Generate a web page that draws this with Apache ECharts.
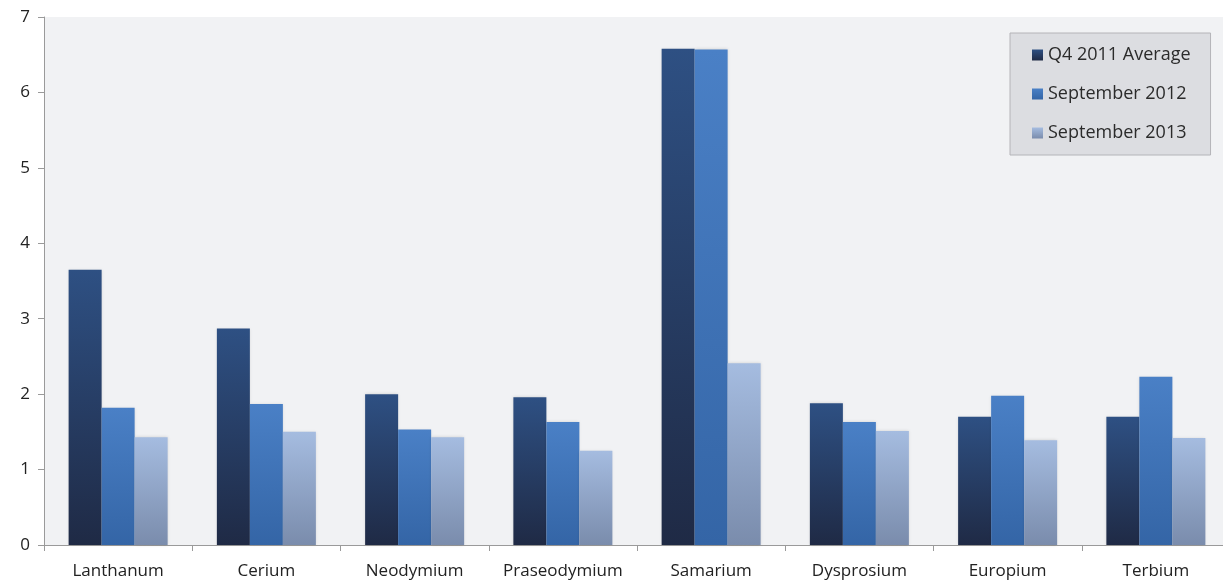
<!DOCTYPE html>
<html><head><meta charset="utf-8">
<script src="https://cdn.jsdelivr.net/npm/echarts@6/dist/echarts.min.js"></script>
<style>html,body{margin:0;padding:0;background:#fff;overflow:hidden}#c{width:1230px;height:583px}</style>
</head><body><div id="c"></div>
<script>
const categories = ['Lanthanum','Cerium','Neodymium','Praseodymium','Samarium','Dysprosium','Europium','Terbium'];
const seriesNames = ['Q4 2011 Average','September 2012','September 2013'];
const q4_2011 = [3.65, 2.87, 2.00, 1.96, 6.58, 1.88, 1.70, 1.70];
const sep_2012 = [1.82, 1.87, 1.53, 1.63, 6.57, 1.63, 1.98, 2.23];
const sep_2013 = [1.43, 1.50, 1.43, 1.25, 2.41, 1.51, 1.39, 1.42];
const yTicks = [0,1,2,3,4,5,6,7];

function grad(top, bottom){
  return {type:'linear',x:0,y:0,x2:0,y2:1,colorStops:[{offset:0,color:top},{offset:1,color:bottom}]};
}
const colors = [grad('#2e5083','#1f2a45'), grad('#4a80c6','#3465a6'), grad('#a5bce0','#7a8cac')];
const font = "'Open Sans', 'Liberation Sans', sans-serif";
const chart = echarts.init(document.getElementById('c'));
chart.setOption({
  animation:false,
  grid:{left:44,top:17,right:0,bottom:38,show:true,backgroundColor:'#f1f2f4',borderWidth:0},
  legend:{
    orient:'vertical', left:1010, top:33,
    backgroundColor:'#dcdde1', borderColor:'#b4b4b8', borderWidth:1,
    padding:[13,20,13,22], itemGap:21, itemWidth:11, itemHeight:11, itemStyle:{borderWidth:0}, icon:'rect',
    textStyle:{fontFamily:font,fontSize:18,color:'#2b2b2b'},
    data:seriesNames
  },
  xAxis:{
    type:'category', data:categories,
    axisLine:{lineStyle:{color:'#9a9a9a',width:1}},
    axisTick:{show:true,length:6,interval:0,lineStyle:{color:'#9a9a9a'}},
    axisLabel:{fontFamily:font,fontSize:17,color:'#222',margin:18,interval:0}
  },
  yAxis:{
    type:'value', min:0, max:7, interval:1,
    axisLine:{show:true,lineStyle:{color:'#9a9a9a'}},
    axisTick:{show:true,length:6,inside:false,lineStyle:{color:'#9a9a9a'}},
    splitLine:{show:false},
    axisLabel:{fontFamily:font,fontSize:17,color:'#222',margin:14,
      formatter:function(v){return yTicks.indexOf(v)>=0?String(v):'';}}
  },
  series:[
    {name:seriesNames[0],type:'bar',data:q4_2011,barWidth:33,barGap:'0%',itemStyle:{color:colors[0],shadowColor:'rgba(0,0,0,0.15)',shadowBlur:3}},
    {name:seriesNames[1],type:'bar',data:sep_2012,barWidth:33,barGap:'0%',itemStyle:{color:colors[1],shadowColor:'rgba(0,0,0,0.15)',shadowBlur:3}},
    {name:seriesNames[2],type:'bar',data:sep_2013,barWidth:33,barGap:'0%',itemStyle:{color:colors[2],shadowColor:'rgba(0,0,0,0.15)',shadowBlur:3}}
  ]
});
</script></body></html>
